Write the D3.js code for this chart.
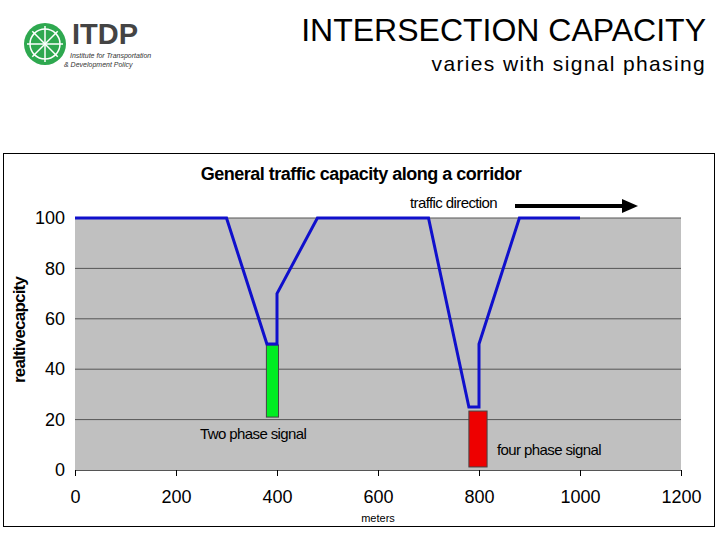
<!DOCTYPE html>
<html><head><meta charset="utf-8">
<script src="https://cdn.jsdelivr.net/npm/d3@7"></script>
<style>body{margin:0;background:#fff}text{font-family:"Liberation Sans",Arial,sans-serif}</style>
</head><body><svg id="c" width="720" height="540"></svg>
<script>
const meters = [0, 300, 380, 400, 400, 480, 700, 780, 800, 800, 880, 1000];
const capacity = [100, 100, 50, 50, 70, 100, 100, 25, 25, 50, 100, 100];
const signals = [
  { label: 'Two phase signal', x0: 379, x1: 403, y0: 21, y1: 49.6, color: '#00ee22' },
  { label: 'four phase signal', x0: 780, x1: 816, y0: 1.2, y1: 23.4, color: '#ee0000' }
];
const xTicks = [0, 200, 400, 600, 800, 1000, 1200];
const yTicks = [0, 20, 40, 60, 80, 100];

const svg = d3.select('#c');

// header
const logo = svg.append('g').attr('transform', 'translate(45,44)');
logo.append('circle').attr('r', 21).attr('fill', '#2ea84f');
logo.append('circle').attr('r', 15).attr('fill', 'none').attr('stroke', '#fff').attr('stroke-width', 1.5);
for (let i = 0; i < 8; i++) {
  const a = i * Math.PI / 4;
  logo.append('line').attr('x1', 0).attr('y1', 0)
    .attr('x2', 18 * Math.cos(a)).attr('y2', 18 * Math.sin(a))
    .attr('stroke', '#fff').attr('stroke-width', 1.5);
}
svg.append('text').attr('x', 72).attr('y', 44).attr('font-size', 29).attr('font-weight', 'bold')
  .attr('fill', '#444').text('ITDP');
svg.append('text').attr('x', 70).attr('y', 58).attr('font-size', 7).attr('font-style', 'italic')
  .attr('font-family', 'Liberation Serif').attr('fill', '#333').text('Institute for Transportation');
svg.append('text').attr('x', 64).attr('y', 67).attr('font-size', 7).attr('font-style', 'italic')
  .attr('font-family', 'Liberation Serif').attr('fill', '#333').text('& Development Policy');
svg.append('text').attr('x', 706).attr('y', 41).attr('text-anchor', 'end').attr('font-size', 32)
  .text('INTERSECTION CAPACITY');
svg.append('text').attr('x', 706).attr('y', 71).attr('text-anchor', 'end').attr('font-size', 21)
  .attr('letter-spacing', 1.35).text('varies with signal phasing');

// chart frame
svg.append('rect').attr('x', 3.5).attr('y', 153.5).attr('width', 711).attr('height', 373)
  .attr('fill', '#fff').attr('stroke', '#000');

const x = d3.scaleLinear().domain([0, 1200]).range([75, 681]);
const y = d3.scaleLinear().domain([0, 100]).range([470, 218]);

svg.append('rect').attr('x', x(0)).attr('y', y(100)).attr('width', x(1200) - x(0))
  .attr('height', y(0) - y(100)).attr('fill', '#c0c0c0');
svg.append('g').selectAll('line').data(yTicks.slice(1)).join('line')
  .attr('x1', x(0)).attr('x2', x(1200)).attr('y1', d => y(d)).attr('y2', d => y(d))
  .attr('stroke', '#555').attr('stroke-width', 1);

const xa = svg.append('g').attr('transform', `translate(0,${y(0)})`)
  .call(d3.axisBottom(x).tickValues(xTicks).tickFormat(d3.format('d')).tickSize(6).tickPadding(14));
xa.selectAll('text').attr('font-size', 18).attr('fill', '#000');
const ya = svg.append('g').attr('transform', `translate(${x(0)},0)`)
  .call(d3.axisLeft(y).tickValues(yTicks).tickSize(0).tickPadding(10));
ya.selectAll('text').attr('font-size', 18).attr('fill', '#000');
xa.select('.domain').attr('stroke', '#555');
ya.select('.domain').remove();

svg.selectAll('rect.sig').data(signals).join('rect').attr('class', 'sig')
  .attr('x', d => x(d.x0)).attr('width', d => x(d.x1) - x(d.x0))
  .attr('y', d => y(d.y1)).attr('height', d => y(d.y0) - y(d.y1))
  .attr('fill', d => d.color).attr('stroke', '#444');

svg.append('path').datum(meters.map((m, i) => [m, capacity[i]]))
  .attr('d', d3.line().x(d => x(d[0])).y(d => y(d[1])))
  .attr('fill', 'none').attr('stroke', '#1010cc').attr('stroke-width', 3);

svg.append('text').attr('x', 200).attr('y', 439).attr('font-size', 15).attr('letter-spacing', -0.6)
  .text(signals[0].label);
svg.append('text').attr('x', 497).attr('y', 455).attr('font-size', 15).attr('letter-spacing', -0.6)
  .text(signals[1].label);

svg.append('text').attr('x', 361).attr('y', 180).attr('text-anchor', 'middle').attr('font-size', 18)
  .attr('font-weight', 'bold').attr('letter-spacing', -0.5).text('General traffic capacity along a corridor');
svg.append('text').attr('x', 410).attr('y', 208).attr('font-size', 15).attr('letter-spacing', -0.6)
  .text('traffic direction');
svg.append('line').attr('x1', 515).attr('x2', 625).attr('y1', 206).attr('y2', 206)
  .attr('stroke', '#000').attr('stroke-width', 4);
svg.append('path').attr('d', 'M622,199 L638,206 L622,213 Z').attr('fill', '#000');
svg.append('text').attr('x', 378).attr('y', 522).attr('text-anchor', 'middle').attr('font-size', 11)
  .text('meters');
svg.append('text').attr('transform', 'translate(25,330) rotate(-90)').attr('text-anchor', 'middle')
  .attr('font-size', 17).attr('font-weight', 'bold').attr('letter-spacing', -0.8).text('realtivecapcity');
</script></body></html>
